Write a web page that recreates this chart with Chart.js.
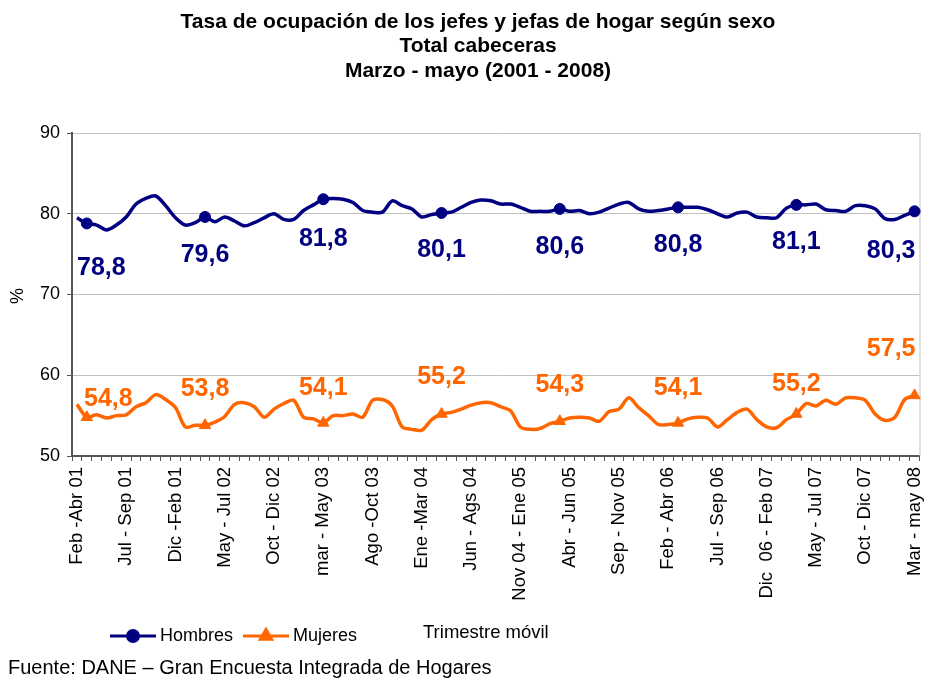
<!DOCTYPE html>
<html>
<head>
<meta charset="utf-8">
<script src="https://cdn.jsdelivr.net/npm/chart.js@4/dist/chart.umd.min.js"></script>
<style>
  html, body { margin: 0; padding: 0; background: #fff; }
  #wrap { position: relative; width: 927px; height: 682px; }
</style>
</head>
<body>
<div id="wrap"><canvas id="chart" width="927" height="682"></canvas></div>
<script>
// --- Data ---
const tickLabels = [
  'Feb -Abr 01', 'Jul - Sep 01', 'Dic -Feb 01', 'May - Jul 02', 'Oct - Dic 02', 'mar - May 03',
  'Ago -Oct 03', 'Ene -Mar 04', 'Jun - Ags 04', 'Nov 04 - Ene 05', 'Abr - Jun 05', 'Sep - Nov 05',
  'Feb - Abr 06', 'Jul - Sep 06', 'Dic  06 - Feb 07', 'May - Jul 07', 'Oct - Dic 07', 'Mar - may 08'
];
const TICK_EVERY = 5;
const N_POINTS = 86;
const categories = [];
for (let i = 0; i < N_POINTS; i++) {
  categories.push(i % TICK_EVERY === 0 ? tickLabels[i / TICK_EVERY] : '');
}

// Mar - May of each year carries a marker and a value label
const markerIdx = [1, 13, 25, 37, 49, 61, 73, 85];

const hombres = [
  79.5, 78.8, 78.6, 78.0, 78.6, 79.6, 81.2, 81.9, 82.2, 81.0,
  79.5, 78.6, 78.9, 79.6, 79.0, 79.6, 79.1, 78.5, 78.9, 79.5,
  80.0, 79.3, 79.3, 80.4, 81.1, 81.8, 81.9, 81.8, 81.4, 80.4,
  80.2, 80.2, 81.6, 81.0, 80.6, 79.6, 79.9, 80.1, 80.2, 80.8,
  81.4, 81.7, 81.6, 81.2, 81.2, 80.8, 80.3, 80.3, 80.3, 80.6,
  80.3, 80.4, 80.0, 80.2, 80.7, 81.2, 81.4, 80.6, 80.3, 80.4,
  80.6, 80.8, 80.8, 80.8, 80.5, 80.0, 79.6, 80.1, 80.2, 79.6,
  79.5, 79.5, 80.7, 81.1, 81.1, 81.2, 80.5, 80.4, 80.3, 81.0,
  81.0, 80.6, 79.4, 79.3, 79.8, 80.3
];
const mujeres = [
  56.4, 54.8, 55.1, 54.7, 55.0, 55.1, 56.1, 56.6, 57.6, 57.0,
  56.0, 53.6, 53.8, 53.8, 54.2, 54.9, 56.4, 56.6, 56.1, 54.8,
  55.8, 56.5, 56.9, 54.8, 54.6, 54.1, 55.0, 55.0, 55.2, 54.8,
  56.9, 57.0, 56.2, 53.6, 53.3, 53.2, 54.5, 55.2, 55.4, 55.8,
  56.3, 56.6, 56.6, 56.1, 55.6, 53.6, 53.3, 53.4, 54.0, 54.3,
  54.7, 54.8, 54.7, 54.3, 55.5, 55.8, 57.2, 56.0, 55.0, 53.9,
  53.9, 54.1, 54.6, 54.8, 54.7, 53.6, 54.5, 55.4, 55.8, 54.5,
  53.6, 53.5, 54.5, 55.2, 56.5, 56.2, 56.9, 56.4, 57.2, 57.2,
  56.9, 55.2, 54.4, 54.8, 57.0, 57.5
];

const yTicks = [50, 60, 70, 80, 90];

const titleLines = [
  'Tasa de ocupación de los jefes y jefas de hogar según sexo',
  'Total cabeceras',
  'Marzo - mayo (2001 - 2008)'
];

// --- Styles ---
const FONT = '"Liberation Sans", Arial, Helvetica, sans-serif';
const NAVY = '#000080';
const ORANGE = '#FF6600';
Chart.defaults.font.family = FONT;
Chart.defaults.color = '#000';

// vertical distance of each value label from its marker (as placed in the original)
const labelShift = [
  [45, 38, 40, 37, 38, 38, 37, 40],
  [-18, -36, -35, -37, -36, -35, -30, -46]
];

const markerRadius = (ctx) => markerIdx.includes(ctx.dataIndex) ? 5.5 : 0;
const triRadius = (ctx) => markerIdx.includes(ctx.dataIndex) ? 6.5 : 0;

// value labels next to the markers
const valueLabels = {
  id: 'valueLabels',
  afterDatasetsDraw(chart) {
    const { ctx, chartArea } = chart;
    ctx.save();
    ctx.font = 'bold 25px ' + FONT;
    ctx.textAlign = 'center';
    ctx.textBaseline = 'middle';
    chart.data.datasets.forEach((ds, di) => {
      const meta = chart.getDatasetMeta(di);
      markerIdx.forEach((i, k) => {
        const pt = meta.data[i];
        const txt = ds.data[i].toFixed(1).replace('.', ',');
        const w = ctx.measureText(txt).width;
        const left = di === 1 && k === 0 ? 12 : 5;
        const x = Math.min(Math.max(pt.x, chartArea.left + w / 2 + left), chartArea.right - w / 2 - 4);
        ctx.fillStyle = ds.borderColor;
        ctx.fillText(txt, x, pt.y + labelShift[di][k]);
      });
    });
    ctx.restore();
  }
};

// titles, legend, notes and plot frame
const decorations = {
  id: 'decorations',
  beforeDatasetsDraw(chart) {
    const { ctx, chartArea } = chart;
    ctx.save();
    ctx.strokeStyle = '#c0c0c0';
    ctx.lineWidth = 1;
    ctx.beginPath();
    ctx.moveTo(chartArea.right + 0.5, chartArea.top);
    ctx.lineTo(chartArea.right + 0.5, chartArea.bottom);
    ctx.stroke();
    ctx.restore();
  },
  afterDraw(chart) {
    const { ctx } = chart;
    ctx.save();
    ctx.fillStyle = '#000';
    ctx.textBaseline = 'middle';

    // title
    ctx.font = 'bold 21px ' + FONT;
    ctx.textAlign = 'center';
    titleLines.forEach((t, i) => ctx.fillText(t, 478, 22 + i * 24.5));

    // y axis title
    ctx.font = '18px ' + FONT;
    ctx.save();
    ctx.translate(18, 296);
    ctx.rotate(-Math.PI / 2);
    ctx.fillText('%', 0, 0);
    ctx.restore();

    // legend
    const items = [
      { ds: chart.data.datasets[0], x: 110, label: 'Hombres' },
      { ds: chart.data.datasets[1], x: 243, label: 'Mujeres' }
    ];
    const ly = 636;
    items.forEach(it => {
      ctx.strokeStyle = it.ds.borderColor;
      ctx.lineWidth = 3;
      ctx.beginPath();
      ctx.moveTo(it.x, ly);
      ctx.lineTo(it.x + 46, ly);
      ctx.stroke();
      ctx.fillStyle = it.ds.borderColor;
      Chart.helpers.drawPoint(ctx, {
        pointStyle: it.ds.pointStyle,
        radius: it.ds.pointStyle === 'triangle' ? 6.5 : 5.5,
        borderWidth: 1
      }, it.x + 23, ly);
      ctx.fillStyle = '#000';
      ctx.textAlign = 'left';
      ctx.font = '18px ' + FONT;
      ctx.fillText(it.label, it.x + 50, ly);
    });

    // x axis title (next to the legend)
    ctx.font = '18.5px ' + FONT;
    ctx.fillText('Trimestre móvil', 423, 633);

    // source
    ctx.font = '20px ' + FONT;
    ctx.fillText('Fuente: DANE \u2013 Gran Encuesta Integrada de Hogares', 8, 668);
    ctx.restore();
  }
};

new Chart(document.getElementById('chart'), {
  type: 'line',
  data: {
    labels: categories,
    datasets: [
      {
        label: 'Hombres',
        data: hombres,
        borderColor: NAVY,
        backgroundColor: NAVY,
        borderWidth: 3.5,
        tension: 0.3,
        pointStyle: 'circle',
        pointRadius: markerRadius,
        pointBorderWidth: 1,
        pointBorderColor: NAVY,
        pointBackgroundColor: NAVY
      },
      {
        label: 'Mujeres',
        data: mujeres,
        borderColor: ORANGE,
        backgroundColor: ORANGE,
        borderWidth: 3.5,
        tension: 0.3,
        pointStyle: 'triangle',
        pointRadius: triRadius,
        pointBorderWidth: 1,
        pointBorderColor: ORANGE,
        pointBackgroundColor: ORANGE
      }
    ]
  },
  options: {
    responsive: false,
    animation: false,
    events: [],
    layout: { padding: { top: 133, left: 0, right: 1, bottom: 0 } },
    plugins: {
      legend: { display: false },
      title: { display: false },
      tooltip: { enabled: false }
    },
    scales: {
      x: {
        type: 'category',
        offset: true,
        grid: { drawOnChartArea: false, drawTicks: true, tickLength: 5, tickColor: '#555', offset: true },
        border: { color: '#555', width: 2 },
        ticks: {
          autoSkip: false,
          maxRotation: 90,
          minRotation: 90,
          padding: 6,
          color: '#000',
          font: { size: 18.5 }
        },
        afterFit(scale) {
          scale.height = 226;
          scale.paddingLeft = 0;
          scale.paddingRight = 0;
        }
      },
      y: {
        min: 50,
        max: 90,
        afterBuildTicks(scale) {
          scale.ticks = yTicks.map(v => ({ value: v }));
        },
        grid: { color: '#c0c0c0', lineWidth: 1, tickLength: 5, tickColor: '#555' },
        border: { color: '#555', width: 2 },
        ticks: { padding: 7, color: '#000', font: { size: 18 } },
        afterFit(scale) {
          scale.width = 72;
        }
      }
    }
  },
  plugins: [decorations, valueLabels]
});
</script>
</body>
</html>
